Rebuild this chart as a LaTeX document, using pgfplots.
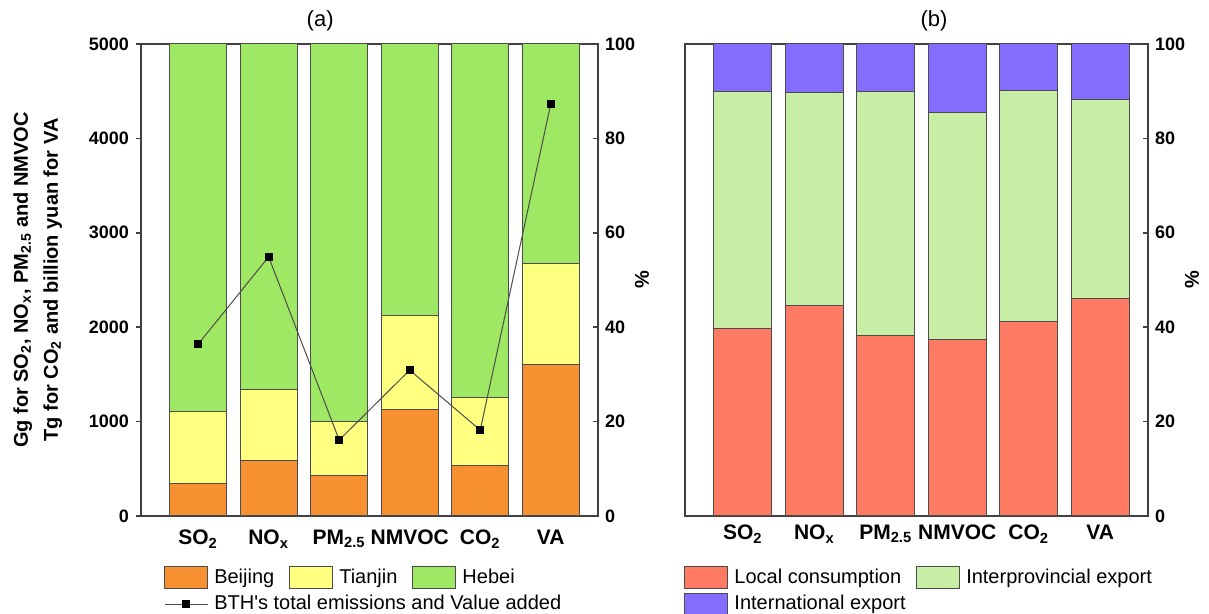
\documentclass[border=0pt]{standalone}
\usepackage{fontspec}
\setmainfont{Liberation Sans}
\usepackage{pgfplots}
\pgfplotsset{compat=1.18}
\definecolor{cBJ}{RGB}{247,144,48}
\definecolor{cTJ}{RGB}{255,255,128}
\definecolor{cHB}{RGB}{158,232,100}
\definecolor{cLC}{RGB}{255,122,98}
\definecolor{cIP}{RGB}{200,238,166}
\definecolor{cIE}{RGB}{132,108,255}
\pgfplotsset{
  common/.style={
    scale only axis, width=228.5pt, height=236pt,
    xmin=-0.81, xmax=5.67,
    axis line style={black!75, line width=0.75pt},
    xtick={0,1,2,3,4,5},
    xticklabels={SO\textsubscript{2},NO\textsubscript{x},PM\textsubscript{2.5},NMVOC,CO\textsubscript{2},VA},
    xticklabel style={font=\bfseries\fontsize{10.5}{12}\selectfont, yshift=-1pt},
    x tick style={draw=none},
    yticklabel style={font=\bfseries\fontsize{9}{10}\selectfont},
    /pgf/number format/assume math mode=true,
    /pgf/number format/1000 sep={},
    major tick length=2.5pt,
    y tick style={black!75, line width=0.75pt},
    title style={font=\fontsize{11}{13}\selectfont, anchor=center, yshift=5.5pt},
    legend style={draw=none, fill=none, inner sep=0pt, anchor=north west,
      font=\fontsize{10}{12}\selectfont, column sep=1pt, row sep=0.5pt,
      /tikz/every even column/.append style={column sep=5.5pt}},
    legend cell align=left,
  },
  patch/.style={draw=black!70, line width=0.5pt,
    legend image code/.code={\draw[##1] (0pt,-5.5pt) rectangle (21.5pt,5.5pt);}},
  linelegend/.style={legend image code/.code={%
    \draw[gray!60!black, line width=0.5pt] (0pt,0pt) -- (21.5pt,0pt);
    \fill[black] (9pt,-1.75pt) rectangle (12.5pt,1.75pt);}},
  bthline/.style={gray!60!black, line width=0.5pt, mark=square*, mark size=1.75pt, mark options={black, solid}},
}
\begin{document}
\begin{tikzpicture}
\path[use as bounding box] (0,0) rectangle (604.5pt,307pt);
% ---------------- panel (a) bars
\begin{axis}[common, at={(70.5pt,49pt)}, anchor=south west,
  ybar stacked, bar width=0.81,
  ymin=0, ymax=5000, ytick={0,1000,...,5000},
  ytick pos=left, tick align=outside,
  ylabel={Gg for SO\textsubscript{2}, NO\textsubscript{x}, PM\textsubscript{2.5} and NMVOC\\Tg for CO\textsubscript{2} and billion yuan for VA},
  ylabel style={align=center, font=\bfseries\fontsize{10}{15}\selectfont},
  ylabel shift=6.5pt,
  title={(a)}, title style={at={(0.392,1)}},
  legend columns=3,
  legend style={at={(0.05,-0.103)}},
  ]
\addplot[fill=cBJ, patch] coordinates {(0,339) (1,593) (2,434) (3,1123) (4,540) (5,1610)};
\addlegendentry{Beijing}
\addplot[fill=cTJ, patch] coordinates {(0,763) (1,742) (2,572) (3,1006) (4,710) (5,1060)};
\addlegendentry{Tianjin}
\addplot[fill=cHB, patch] coordinates {(0,3898) (1,3665) (2,3994) (3,2871) (4,3750) (5,2330)};
\addlegendentry{Hebei}
\addlegendimage{linelegend}
\addlegendentry{\makebox[0pt][l]{BTH{\addfontfeature{Ligatures=TeXOff}'}s total emissions and Value added}}
\end{axis}
% ---------------- panel (a) line, right axis
\begin{axis}[common, at={(70.5pt,49pt)}, anchor=south west,
  ymin=0, ymax=100, ytick={0,20,...,100},
  axis y line*=right, axis x line=none, tick align=inside,
  ylabel={\%}, ylabel style={font=\bfseries\fontsize{10}{12}\selectfont},
  ylabel shift=-7pt,
  ]
\addplot[bthline]
  coordinates {(0,36.4) (1,54.9) (2,16.1) (3,30.9) (4,18.2) (5,87.3)};
\end{axis}
% ---------------- panel (b)
\begin{axis}[common, at={(342.5pt,49pt)}, anchor=south west,
  width=231.5pt,
  ybar stacked, bar width=0.81,
  ymin=0, ymax=100, ytick={0,20,...,100},
  ytick pos=right, yticklabel pos=right, ylabel near ticks, tick align=inside,
  ylabel={\%}, ylabel style={font=\bfseries\fontsize{10}{12}\selectfont},
  ylabel shift=-7pt,
  title={(b)}, title style={at={(0.538,1)}},
  legend columns=2,
  legend style={at={(-0.002,-0.103)}},
  ]
\addplot[fill=cLC, patch] coordinates {(0,39.7) (1,44.6) (2,38.3) (3,37.4) (4,41.3) (5,46.1)};
\addlegendentry{Local consumption}
\addplot[fill=cIP, patch] coordinates {(0,50.2) (1,45.2) (2,51.7) (3,48.1) (4,48.8) (5,42.2)};
\addlegendentry{Interprovincial export}
\addplot[fill=cIE, patch] coordinates {(0,10.1) (1,10.2) (2,10.0) (3,14.5) (4,9.9) (5,11.7)};
\addlegendentry{\makebox[0pt][l]{International export}}
\end{axis}
\end{tikzpicture}
\end{document}
